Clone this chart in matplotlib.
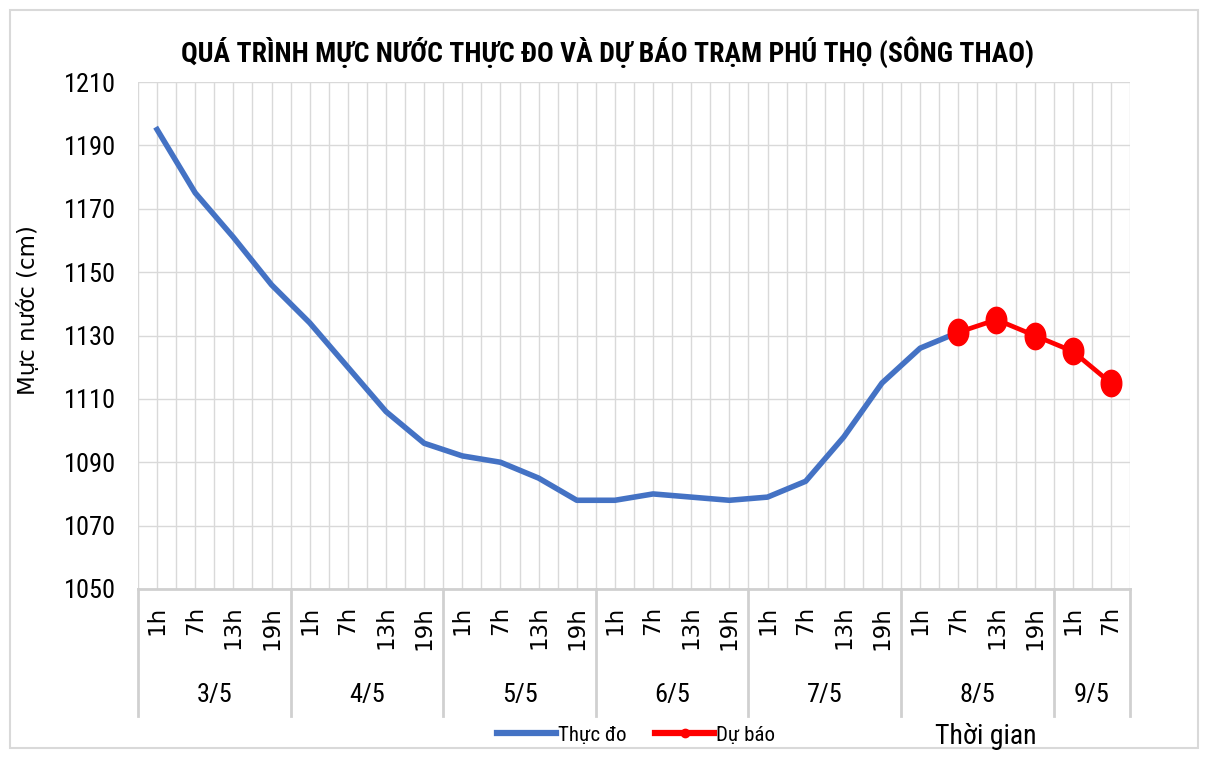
import matplotlib
matplotlib.use("Agg")
import matplotlib.pyplot as plt
import matplotlib.transforms as mtransforms
from matplotlib.lines import Line2D
from matplotlib.patches import Rectangle
import numpy as np

days = ["3/5", "4/5", "5/5", "6/5", "7/5", "8/5", "9/5"]
hours_per_day = [["1h", "7h", "13h", "19h"]] * 6 + [["1h", "7h"]]
observed = [1195, 1175, 1161, 1146, 1134, 1120, 1106, 1096,
            1092, 1090, 1085, 1078, 1078, 1080, 1079, 1078,
            1079, 1084, 1098, 1115, 1126, 1131]
forecast = [1131, 1135, 1130, 1125, 1115]
forecast_start = 21
yticks = list(range(1050, 1211, 20))

narrow = ["Roboto Condensed", "DejaVu Sans"]
plt.rcParams["font.family"] = ["DejaVu Sans"]

hour_labels = [h for day in hours_per_day for h in day]
n = len(hour_labels)
x = np.arange(n)

# slightly tall ellipse marker, like the stretched Excel circles
t = np.linspace(0, 2 * np.pi, 40)
ellipse = list(zip(0.78 * np.cos(t), np.sin(t)))

fig = plt.figure(figsize=(12.12, 7.58), dpi=100)
ax = fig.add_axes([138 / 1212, 1 - 589 / 758, (1130 - 138) / 1212, (589 - 82) / 758])

# outer frame
fig.patches.append(Rectangle((10 / 1212, 10 / 758), 1188 / 1212, 738 / 758,
                             transform=fig.transFigure, fill=False,
                             edgecolor="#d9d9d9", linewidth=1.5))

ax.plot(x[:len(observed)], observed, color="#4472C4", linewidth=4,
        solid_joinstyle="round", zorder=3)
xf = x[forecast_start:forecast_start + len(forecast)]
ax.plot(xf, forecast, color="#FF0000", linewidth=3.4, marker=ellipse,
        markersize=19, zorder=4)

ax.set_xlim(-0.5, n - 0.5)
ax.set_ylim(1050, 1210)
ax.set_yticks(yticks)
ax.set_yticklabels([str(v) for v in yticks], family=narrow, fontsize=19)
ax.set_xticks(x)
ax.set_xticklabels(hour_labels, rotation=90, fontsize=16.5, va="top")
ax.set_xticks(np.arange(-0.5, n, 1.0), minor=True)
ax.tick_params(axis="x", length=0, pad=12)
ax.tick_params(axis="y", length=0, pad=16)
ax.tick_params(axis="x", which="minor", length=0)
ax.grid(True, which="both", color="#d9d9d9", linewidth=1)
ax.set_axisbelow(True)
for side in ["top", "right", "left"]:
    ax.spines[side].set_visible(False)
ax.spines["bottom"].set_color("#d0d0d0")
ax.spines["bottom"].set_linewidth(2)

ax.set_ylabel("Mực nước (cm)", fontsize=16.5)
ax.yaxis.set_label_coords(-0.099, 0.55)

# day group separators and labels under the axis
trans = mtransforms.blended_transform_factory(ax.transData, ax.transAxes)
pos = -0.5
for day, hrs in zip(days, hours_per_day):
    ax.plot([pos, pos], [0, -0.25], transform=trans, color="#d0d0d0",
            linewidth=2, clip_on=False)
    ax.text(pos + len(hrs) / 2, -0.21, day, transform=trans, ha="center",
            va="center", family=narrow, fontsize=19)
    pos += len(hrs)
ax.plot([pos, pos], [0, -0.25], transform=trans, color="#d0d0d0",
        linewidth=2, clip_on=False)

fig.text(608 / 1212, 1 - 52 / 758,
         "QUÁ TRÌNH MỰC NƯỚC THỰC ĐO VÀ DỰ BÁO TRẠM PHÚ THỌ (SÔNG THAO)",
         ha="center", va="center", family=narrow, fontsize=20, fontweight="bold")

handles = [Line2D([], [], color="#4472C4", linewidth=4.5),
           Line2D([], [], color="#FF0000", linewidth=4.5, marker="o", markersize=6)]
fig.legend(handles, ["Thực đo", "Dự báo"], loc="center",
           bbox_to_anchor=(636 / 1212, 1 - 735 / 758), ncol=2, frameon=False,
           handlelength=2.8, handletextpad=0.1, columnspacing=1.4,
           prop={"family": narrow, "size": 15})

fig.text(986 / 1212, 1 - 737 / 758, "Thời gian", ha="center", va="center",
         family=narrow, fontsize=20)

fig.savefig("out.png", dpi=100)
